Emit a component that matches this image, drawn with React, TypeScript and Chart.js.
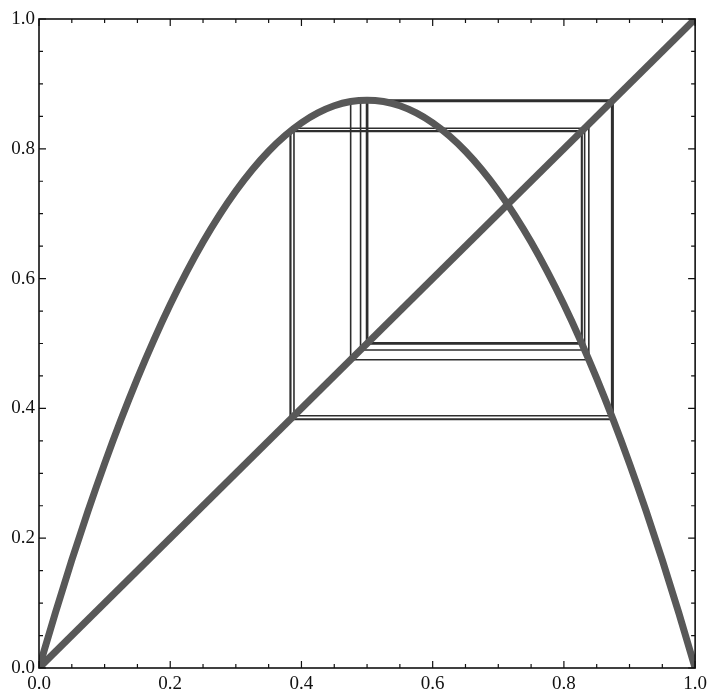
import React, { useEffect, useRef } from "react";
import { Chart, registerables } from "chart.js";

Chart.register(...registerables);

// Logistic map f(x) = r·x·(1 − x), r = 3.5, sampled along x
const CURVE_X = [
  0, 0.025, 0.05, 0.075, 0.1, 0.125, 0.15, 0.175, 0.2, 0.225, 0.25, 0.275, 0.3, 0.325, 0.35,
  0.375, 0.4, 0.425, 0.45, 0.475, 0.5, 0.525, 0.55, 0.575, 0.6, 0.625, 0.65, 0.675, 0.7,
  0.725, 0.75, 0.775, 0.8, 0.825, 0.85, 0.875, 0.9, 0.925, 0.95, 0.975, 1,
];
const CURVE_Y = [
  0, 0.0853, 0.1663, 0.2428, 0.315, 0.3828, 0.4463, 0.5053, 0.56, 0.6103, 0.6563, 0.6978,
  0.735, 0.7678, 0.7963, 0.8203, 0.84, 0.8553, 0.8663, 0.8728, 0.875, 0.8728, 0.8663, 0.8553,
  0.84, 0.8203, 0.7963, 0.7678, 0.735, 0.6978, 0.6563, 0.6103, 0.56, 0.5053, 0.4463, 0.3828,
  0.315, 0.2428, 0.1663, 0.0853, 0,
];

// Identity line y = x
const DIAGONAL_X = [0, 1];
const DIAGONAL_Y = [0, 1];

// Successive iterates x0, x1, x2, ... settling on the period-4 orbit
const ORBIT = [
  0.838, 0.475, 0.8728, 0.3886, 0.8316, 0.4901, 0.8747, 0.3837, 0.8277, 0.4992, 0.875,
  0.3828, 0.8269, 0.5009, 0.875,
];

// Axis ticks
const TICK_VALUES = [0, 0.05, 0.1, 0.15, 0.2, 0.25, 0.3, 0.35, 0.4, 0.45, 0.5, 0.55, 0.6, 0.65, 0.7, 0.75, 0.8, 0.85, 0.9, 0.95, 1];
const LABEL_VALUES = [0, 0.2, 0.4, 0.6, 0.8, 1];
const TICK_LABELS = ["0.0", "0.2", "0.4", "0.6", "0.8", "1.0"];

const FONT = { family: "'Liberation Serif', 'Times New Roman', serif", size: 19 };

// Staircase path: (x0,x0) → (x0,x1) → (x1,x1) → (x1,x2) → ...
function cobwebPoints(orbit: number[]) {
  const pts: { x: number; y: number }[] = [];
  for (let i = 0; i < orbit.length - 1; i++) {
    pts.push({ x: orbit[i], y: orbit[i] });
    pts.push({ x: orbit[i], y: orbit[i + 1] });
  }
  const last = orbit[orbit.length - 1];
  pts.push({ x: last, y: last });
  return pts;
}

const frameAndTicks = {
  id: "frameAndTicks",
  afterDatasetsDraw(chart: any) {
    const { ctx, chartArea, scales } = chart;
    const { left, right, top, bottom } = chartArea;
    const xs = scales.x;
    const ys = scales.y;
    ctx.save();
    ctx.strokeStyle = "#111";
    ctx.lineWidth = 1.6;
    ctx.strokeRect(left, top, right - left, bottom - top);
    ctx.lineWidth = 1.2;
    ctx.beginPath();
    for (const v of TICK_VALUES) {
      const major = LABEL_VALUES.some((l) => Math.abs(l - v) < 1e-9);
      const len = major ? 7 : 4;
      const px = xs.getPixelForValue(v);
      const py = ys.getPixelForValue(v);
      ctx.moveTo(px, bottom);
      ctx.lineTo(px, bottom - len);
      ctx.moveTo(px, top);
      ctx.lineTo(px, top + len);
      ctx.moveTo(left, py);
      ctx.lineTo(left + len, py);
      ctx.moveTo(right, py);
      ctx.lineTo(right - len, py);
    }
    ctx.stroke();
    ctx.restore();
  },
};

const labelFor = (v: number) => {
  const i = LABEL_VALUES.findIndex((l) => Math.abs(l - v) < 1e-9);
  return i >= 0 ? TICK_LABELS[i] : "";
};

export default function App() {
  const canvasRef = useRef<HTMLCanvasElement | null>(null);

  useEffect(() => {
    if (!canvasRef.current) return;
    const chart = new Chart(canvasRef.current, {
      type: "scatter",
      data: {
        datasets: [
          {
            data: CURVE_X.map((x, i) => ({ x, y: CURVE_Y[i] })),
            showLine: true,
            borderColor: "#585858",
            borderWidth: 7,
            pointRadius: 0,
            cubicInterpolationMode: "monotone",
            order: 0,
          },
          {
            data: DIAGONAL_X.map((x, i) => ({ x, y: DIAGONAL_Y[i] })),
            showLine: true,
            borderColor: "#585858",
            borderWidth: 7,
            pointRadius: 0,
            order: 1,
          },
          {
            data: cobwebPoints(ORBIT),
            showLine: true,
            borderColor: "#2e2e2e",
            borderWidth: 1.6,
            pointRadius: 0,
            tension: 0,
            order: 2,
          },
        ],
      },
      options: {
        responsive: false,
        animation: false,
        layout: { padding: { top: 19, right: 13, left: 0, bottom: 0 } },
        plugins: {
          legend: { display: false },
          tooltip: { enabled: false },
        },
        scales: {
          x: {
            type: "linear",
            min: 0,
            max: 1,
            grid: { display: false, drawTicks: false, tickLength: 0 },
            border: { display: false },
            afterFit: (s: any) => {
              s.height = 28;
            },
            afterBuildTicks: (s: any) => {
              s.ticks = LABEL_VALUES.map((value) => ({ value }));
            },
            ticks: {
              color: "#111",
              font: FONT,
              padding: 5,
              maxRotation: 0,
              autoSkip: false,
              callback: (v: any) => labelFor(Number(v)),
            },
          },
          y: {
            type: "linear",
            min: 0,
            max: 1,
            grid: { display: false, drawTicks: false, tickLength: 0 },
            border: { display: false },
            afterFit: (s: any) => {
              s.width = 39;
            },
            afterBuildTicks: (s: any) => {
              s.ticks = LABEL_VALUES.map((value) => ({ value }));
            },
            ticks: {
              color: "#111",
              font: FONT,
              padding: 4,
              autoSkip: false,
              callback: (v: any) => labelFor(Number(v)),
            },
          },
        },
      },
      plugins: [frameAndTicks],
    });
    return () => chart.destroy();
  }, []);

  return (
    <div style={{ position: "fixed", left: 0, top: 0, width: 712, height: 696, background: "#fff" }}>
      <canvas ref={canvasRef} width={712} height={696} style={{ display: "block" }} />
    </div>
  );
}
